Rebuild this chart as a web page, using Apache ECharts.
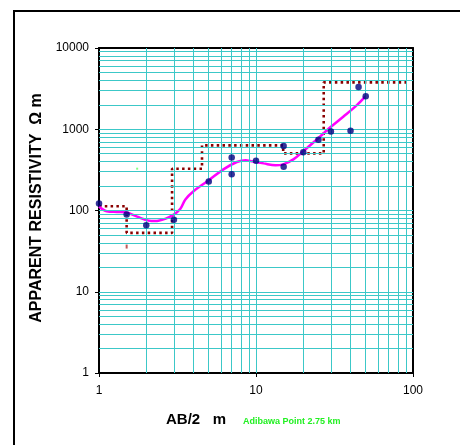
<!DOCTYPE html>
<html>
<head>
<meta charset="utf-8">
<script src="https://cdn.jsdelivr.net/npm/echarts@6/dist/echarts.min.js"></script>
<style>
  html, body { margin: 0; padding: 0; background: #fff; }
  #chart { width: 460px; height: 445px; }
</style>
</head>
<body>
<div id="chart"></div>
<script>
// Field readings: electrode half-spacing AB/2 (m) and apparent resistivity (ohm-m)
const spacing = [1, 1.5, 2, 3, 5, 7, 7, 10, 15, 15, 20, 25, 30, 40, 45, 50];
const rhoApparent = [122, 89, 66, 77, 228, 450, 280, 410, 620, 345, 520, 740, 940, 960, 3300, 2550];

// Smoothed sounding curve
const curveX = [1, 1.12, 1.3, 1.47, 1.75, 2.07, 2.28, 2.64, 2.99, 3.3, 3.55, 4.0, 4.98, 6.2, 7.55, 8.6, 9.2, 11.2, 13.3, 14.9, 17.3, 20.1, 24.5, 29.6, 36.1, 43.9, 49.7];
const curveRho = [112, 98, 96, 95, 84, 75, 74, 79, 89, 105, 137, 173, 234, 321, 395, 416, 407, 380, 360, 370, 426, 541, 752, 1049, 1436, 1981, 2542];

// Interpreted layer model (stepped), vertex by vertex
const modelX = [1, 1.5, 1.5, 2.92, 2.92, 4.53, 4.53, 14.9, 14.9, 27, 27, 94];
const modelRho = [113, 113, 53, 53, 327, 327, 634, 634, 505, 505, 3780, 3780];

// Stray marks
const strayRedX = [1.5];
const strayRedRho = [36];
const strayGreenX = [1.75];
const strayGreenRho = [327];

// Axis ranges and labelled ticks
const xTicks = [1, 10, 100];
const yTicks = [1, 10, 100, 1000, 10000];

const FONT = '"Liberation Sans", Arial, sans-serif';
const GRID_COLOR = '#3CC8C8';

// Log-paper rulings: every integer multiple inside each decade
function rulings(ticks) {
  const out = [];
  for (let i = 0; i < ticks.length - 1; i++) {
    for (let m = 1; m <= 9; m++) {
      const v = ticks[i] * m;
      if (v > ticks[0]) out.push(v);
    }
  }
  return out;
}
const gridLines = [
  ...rulings(xTicks).map(v => ({ xAxis: v })),
  ...rulings(yTicks).map(v => ({ yAxis: v }))
];

const zip = (a, b) => a.map((v, i) => [v, b[i]]);
const fmt = v => String(Math.round(v));

const chart = echarts.init(document.getElementById('chart'), null, { renderer: 'canvas' });

chart.setOption({
  animation: false,
  backgroundColor: '#fff',
  grid: { left: 99, top: 48, width: 314, height: 325, containLabel: false },
  xAxis: [
    {
      type: 'log', logBase: 10, min: xTicks[0], max: xTicks[xTicks.length - 1],
      position: 'bottom',
      axisLine: { show: true, lineStyle: { color: '#000', width: 2 } },
      axisTick: { show: true, length: 4, lineStyle: { color: '#000', width: 1 } },
      axisLabel: { color: '#000', fontFamily: FONT, fontSize: 12, margin: 12, formatter: fmt },
      splitLine: { show: false }
    },
    {
      type: 'log', logBase: 10, min: xTicks[0], max: xTicks[xTicks.length - 1],
      position: 'top',
      axisLine: { show: true, lineStyle: { color: '#000', width: 2 } },
      axisTick: { show: false }, axisLabel: { show: false }, splitLine: { show: false }
    }
  ],
  yAxis: [
    {
      type: 'log', logBase: 10, min: yTicks[0], max: yTicks[yTicks.length - 1], interval: 1,
      position: 'left',
      axisLine: { show: true, lineStyle: { color: '#000', width: 2 } },
      axisTick: { show: true, length: 4, lineStyle: { color: '#000', width: 1 } },
      axisLabel: { color: '#000', fontFamily: FONT, fontSize: 12, margin: 10, formatter: fmt },
      splitLine: { show: false }
    },
    {
      type: 'log', logBase: 10, min: yTicks[0], max: yTicks[yTicks.length - 1],
      position: 'right',
      axisLine: { show: true, lineStyle: { color: '#000', width: 2 } },
      axisTick: { show: false }, axisLabel: { show: false }, splitLine: { show: false }
    }
  ],
  series: [
    {
      name: 'rulings', type: 'line', data: [], z: 1, silent: true,
      markLine: {
        silent: true, symbol: ['none', 'none'], animation: false,
        label: { show: false },
        lineStyle: { color: GRID_COLOR, width: 1, type: 'solid' },
        emphasis: { disabled: true },
        data: gridLines
      }
    },
    {
      name: 'model', type: 'line', z: 3,
      data: zip(modelX, modelRho),
      showSymbol: false, symbol: 'none',
      lineStyle: { color: '#8B0000', width: 2.6, type: [2.5, 3.3], cap: 'butt' }
    },
    {
      name: 'strayRed', type: 'scatter', z: 3,
      data: zip(strayRedX, strayRedRho),
      symbol: 'rect', symbolSize: [2, 4], itemStyle: { color: '#B03030' }
    },
    {
      name: 'strayGreen', type: 'scatter', z: 3,
      data: zip(strayGreenX, strayGreenRho),
      symbol: 'rect', symbolSize: 2, itemStyle: { color: '#66FF66' }
    },
    {
      name: 'curve', type: 'line', z: 4,
      data: zip(curveX, curveRho),
      smooth: 0.35, showSymbol: false, symbol: 'none',
      lineStyle: { color: '#FF00FF', width: 2.5 }
    },
    {
      name: 'observed', type: 'scatter', z: 5,
      data: zip(spacing, rhoApparent),
      symbol: 'circle', symbolSize: 6.5,
      itemStyle: { color: '#000080' }
    }
  ],
  graphic: [
    {
      type: 'rect', silent: true, z: 10,
      shape: { x: 14, y: 11, width: 470, height: 460 },
      style: { fill: 'none', stroke: '#000', lineWidth: 2 }
    },
    {
      type: 'text', x: 37, y: 208, rotation: Math.PI / 2, z: 10,
      style: {
        text: 'APPARENT RESISTIVITY  Ω m', fill: '#000',
        font: 'bold 16px ' + FONT, align: 'center', verticalAlign: 'middle'
      }
    },
    {
      type: 'text', x: 166, y: 420, z: 10,
      style: {
        text: 'AB/2   m', fill: '#000',
        font: 'bold 15px ' + FONT, align: 'left', verticalAlign: 'middle'
      }
    },
    {
      type: 'text', x: 243, y: 422, z: 10,
      style: {
        text: 'Adibawa Point 2.75 km', fill: '#22F022',
        font: 'bold 9px ' + FONT, align: 'left', verticalAlign: 'middle'
      }
    }
  ]
});
</script>
</body>
</html>
